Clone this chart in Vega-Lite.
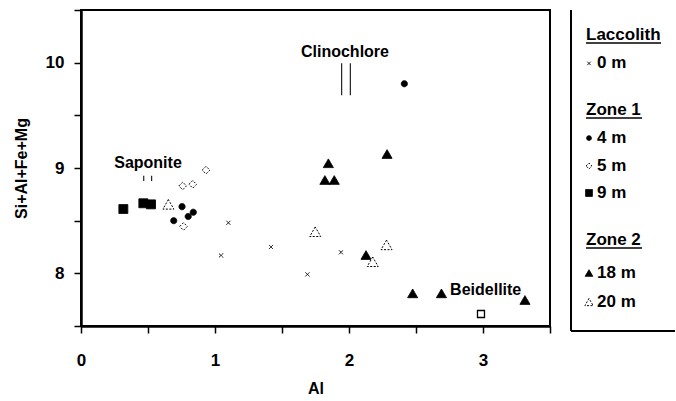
{
  "$schema": "https://vega.github.io/schema/vega-lite/v6.json",
  "padding": {"left": 12, "top": 0, "right": 0, "bottom": 0},
  "config": {
    "font": "Liberation Sans",
    "view": {"stroke": null},
    "concat": {"spacing": 18}
  },
  "resolve": {"scale": {"size": "independent"}},
  "datasets": {
    "points": [
      {"al": 1.10, "total": 8.48, "series": "0 m"},
      {"al": 1.045, "total": 8.17, "series": "0 m"},
      {"al": 1.418, "total": 8.25, "series": "0 m"},
      {"al": 1.69, "total": 7.99, "series": "0 m"},
      {"al": 1.94, "total": 8.20, "series": "0 m"},
      {"al": 0.765, "total": 8.445, "series": "5 m"},
      {"al": 0.759, "total": 8.83, "series": "5 m"},
      {"al": 0.834, "total": 8.845, "series": "5 m"},
      {"al": 0.933, "total": 8.98, "series": "5 m"},
      {"al": 0.692, "total": 8.50, "series": "4 m"},
      {"al": 0.754, "total": 8.633, "series": "4 m"},
      {"al": 0.80, "total": 8.54, "series": "4 m"},
      {"al": 0.838, "total": 8.58, "series": "4 m"},
      {"al": 2.413, "total": 9.80, "series": "4 m"},
      {"al": 0.316, "total": 8.61, "series": "9 m"},
      {"al": 0.465, "total": 8.665, "series": "9 m"},
      {"al": 0.522, "total": 8.655, "series": "9 m"},
      {"al": 1.82, "total": 8.886, "series": "18 m"},
      {"al": 1.89, "total": 8.886, "series": "18 m"},
      {"al": 1.846, "total": 9.045, "series": "18 m"},
      {"al": 2.284, "total": 9.133, "series": "18 m"},
      {"al": 2.127, "total": 8.174, "series": "18 m"},
      {"al": 2.475, "total": 7.81, "series": "18 m"},
      {"al": 2.69, "total": 7.81, "series": "18 m"},
      {"al": 3.313, "total": 7.747, "series": "18 m"},
      {"al": 0.652, "total": 8.655, "series": "20 m"},
      {"al": 1.748, "total": 8.395, "series": "20 m"},
      {"al": 2.177, "total": 8.11, "series": "20 m"},
      {"al": 2.28, "total": 8.27, "series": "20 m"}
    ],
    "labels": [
      {"al": 0.50, "total": 9.045, "name": "Saponite"},
      {"al": 1.97, "total": 10.105, "name": "Clinochlore"},
      {"al": 3.02, "total": 7.842, "name": "Beidellite"}
    ],
    "refs": [
      {"al": 0.468, "total": 8.877, "total2": 8.927},
      {"al": 0.527, "total": 8.877, "total2": 8.927},
      {"al": 1.945, "total": 9.69, "total2": 9.995},
      {"al": 2.01, "total": 9.69, "total2": 9.995}
    ],
    "minerals": [
      {"al": 2.985, "total": 7.614, "name": "Beidellite"}
    ],
    "legend": [
      {"kind": "heading", "label": "Laccolith", "row": 0},
      {"kind": "item", "label": "0 m", "series": "0 m", "row": 1},
      {"kind": "heading", "label": "Zone 1", "row": 2.64},
      {"kind": "item", "label": "4 m", "series": "4 m", "row": 3.63},
      {"kind": "item", "label": "5 m", "series": "5 m", "row": 4.61},
      {"kind": "item", "label": "9 m", "series": "9 m", "row": 5.56},
      {"kind": "heading", "label": "Zone 2", "row": 7.22},
      {"kind": "item", "label": "18 m", "series": "18 m", "row": 8.38},
      {"kind": "item", "label": "20 m", "series": "20 m", "row": 9.40}
    ]
  },
  "hconcat": [
    {
      "width": 469,
      "height": 316,
      "view": {"stroke": "black", "strokeWidth": 2},
      "encoding": {
        "x": {
          "field": "al", "type": "quantitative",
          "scale": {"domain": [0, 3.5], "nice": false, "zero": false},
          "axis": {
            "title": "Al",
            "values": [0, 0.5, 1, 1.5, 2, 2.5, 3, 3.5],
            "labelExpr": "datum.value % 1 === 0 ? format(datum.value, 'd') : ''",
            "grid": false, "tickSize": 7, "tickWidth": 1.5, "tickColor": "black",
            "domainColor": "black", "domainWidth": 2.5,
            "labelFontSize": 17, "labelFontWeight": "bold", "labelColor": "black",
            "labelPadding": 19, "labelFlush": false, "labelOverlap": false,
            "titleFontSize": 16, "titleFontWeight": "bold", "titleColor": "black",
            "titlePadding": 12
          }
        },
        "y": {
          "field": "total", "type": "quantitative",
          "scale": {"domain": [7.5, 10.5], "nice": false, "zero": false},
          "axis": {
            "title": "Si+Al+Fe+Mg",
            "values": [7.5, 8, 8.5, 9, 9.5, 10, 10.5],
            "labelExpr": "datum.value % 1 === 0 ? format(datum.value, 'd') : ''",
            "grid": false, "tickSize": 7, "tickWidth": 1.5, "tickColor": "black",
            "domainColor": "black", "domainWidth": 2.5,
            "labelFontSize": 17, "labelFontWeight": "bold", "labelColor": "black",
            "labelPadding": 10, "labelFlush": false, "labelOverlap": false,
            "titleFontSize": 16, "titleFontWeight": "bold", "titleColor": "black",
            "titlePadding": 16
          }
        }
      },
      "layer": [
        {
          "data": {"name": "refs"},
          "mark": {"type": "rule", "stroke": "#222", "strokeWidth": 1.2},
          "encoding": {"y2": {"field": "total2"}}
        },
        {
          "data": {"name": "minerals"},
          "mark": {"type": "point", "shape": "square", "filled": true, "fill": "white", "stroke": "black", "strokeWidth": 1.3, "size": 49, "opacity": 1}
        },
        {
          "data": {"name": "points"},
          "mark": {"type": "point", "filled": true, "stroke": "black", "strokeWidth": 1, "opacity": 1, "fillOpacity": 1},
          "encoding": {
            "shape": {"field": "series", "type": "nominal", "legend": null,
              "scale": {"domain": ["0 m", "4 m", "5 m", "9 m", "18 m", "20 m"],
                "range": ["M-1,-1L1,1M-1,1L1,-1", "circle", "diamond", "square", "triangle-up", "triangle-up"]}},
            "fill": {"field": "series", "type": "nominal", "legend": null,
              "scale": {"domain": ["0 m", "4 m", "5 m", "9 m", "18 m", "20 m"],
                "range": ["transparent", "black", "white", "black", "black", "white"]}},
            "strokeDash": {"field": "series", "type": "nominal", "legend": null,
              "scale": {"domain": ["0 m", "4 m", "5 m", "9 m", "18 m", "20 m"],
                "range": [[1, 0], [1, 0], [2, 1.5], [1, 0], [1, 0], [2, 1.5]]}},
            "size": {"field": "series", "type": "nominal", "legend": null,
              "scale": {"domain": ["0 m", "4 m", "5 m", "9 m", "18 m", "20 m"],
                "range": [16, 121, 90, 150, 144, 144]}}
          }
        },
        {
          "data": {"name": "labels"},
          "mark": {"type": "text", "fontSize": 16, "fontWeight": "bold", "align": "center", "baseline": "middle", "color": "black"},
          "encoding": {"text": {"field": "name"}}
        }
      ]
    },
    {
      "width": 104,
      "height": 321,
      "data": {"name": "legend"},
      "encoding": {
        "y": {"field": "row", "type": "quantitative", "axis": null,
          "scale": {"domain": [-0.88, 10.42], "reverse": true, "nice": false, "zero": false}}
      },
      "layer": [
        {
          "mark": {"type": "rule", "stroke": "black", "strokeWidth": 2},
          "encoding": {
            "x": {"datum": 0, "type": "quantitative", "axis": null, "scale": {"domain": [0, 104], "nice": false, "zero": false}},
            "y": {"datum": -0.88, "type": "quantitative"},
            "y2": {"datum": 10.42}
          }
        },
        {
          "mark": {"type": "rule", "stroke": "black", "strokeWidth": 2},
          "encoding": {
            "x": {"datum": 0, "type": "quantitative"},
            "x2": {"datum": 104},
            "y": {"datum": 10.42, "type": "quantitative"}
          }
        },
        {
          "transform": [{"filter": "datum.kind === 'heading'"}],
          "mark": {"type": "text", "fontSize": 17, "fontWeight": "bold", "align": "left", "baseline": "middle", "color": "black"},
          "encoding": {
            "x": {"datum": 15, "type": "quantitative"},
            "text": {"field": "label"}
          }
        },
        {
          "transform": [{"filter": "datum.label === 'Laccolith'"}],
          "mark": {"type": "rule", "stroke": "black", "strokeWidth": 1.5, "yOffset": 8},
          "encoding": {
            "x": {"datum": 15, "type": "quantitative"},
            "x2": {"datum": 90}
          }
        },
        {
          "transform": [{"filter": "datum.kind === 'heading' && datum.label !== 'Laccolith'"}],
          "mark": {"type": "rule", "stroke": "black", "strokeWidth": 1.5, "yOffset": 8},
          "encoding": {
            "x": {"datum": 15, "type": "quantitative"},
            "x2": {"datum": 71}
          }
        },
        {
          "transform": [{"filter": "datum.kind === 'item'"}],
          "mark": {"type": "text", "fontSize": 17, "fontWeight": "bold", "align": "left", "baseline": "middle", "color": "black"},
          "encoding": {
            "x": {"datum": 26, "type": "quantitative"},
            "text": {"field": "label"}
          }
        },
        {
          "transform": [{"filter": "datum.kind === 'item'"}],
          "mark": {"type": "point", "filled": true, "stroke": "black", "strokeWidth": 1, "opacity": 1, "fillOpacity": 1},
          "encoding": {
            "x": {"datum": 18, "type": "quantitative"},
            "shape": {"field": "series", "type": "nominal", "legend": null,
              "scale": {"domain": ["0 m", "4 m", "5 m", "9 m", "18 m", "20 m"],
                "range": ["M-1,-1L1,1M-1,1L1,-1", "circle", "diamond", "square", "triangle-up", "triangle-up"]}},
            "fill": {"field": "series", "type": "nominal", "legend": null,
              "scale": {"domain": ["0 m", "4 m", "5 m", "9 m", "18 m", "20 m"],
                "range": ["transparent", "black", "white", "black", "black", "white"]}},
            "strokeDash": {"field": "series", "type": "nominal", "legend": null,
              "scale": {"domain": ["0 m", "4 m", "5 m", "9 m", "18 m", "20 m"],
                "range": [[1, 0], [1, 0], [2, 1.5], [1, 0], [1, 0], [2, 1.5]]}},
            "size": {"field": "series", "type": "nominal", "legend": null,
              "scale": {"domain": ["0 m", "4 m", "5 m", "9 m", "18 m", "20 m"],
                "range": [12, 69, 45, 87, 87, 81]}}
          }
        }
      ]
    }
  ]
}
